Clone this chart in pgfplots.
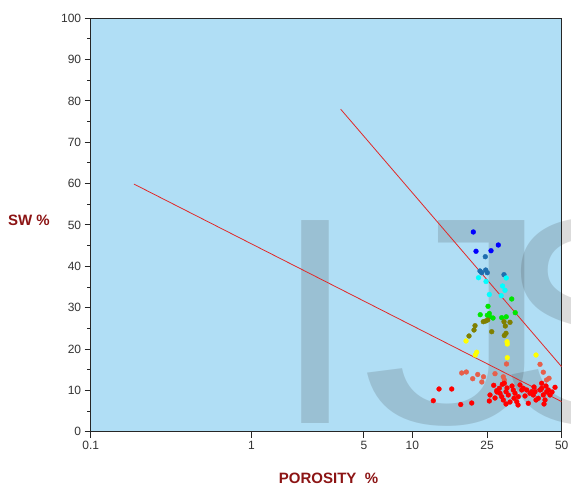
\documentclass[border=0pt]{standalone}
\usepackage{fontspec}
\setmainfont{Liberation Sans}
\usepackage{pgfplots}
\pgfplotsset{compat=1.18}
\definecolor{bgblue}{RGB}{176,222,245}
\definecolor{lblred}{RGB}{140,20,20}
\definecolor{ptblue}{RGB}{0,0,255}
\definecolor{ptsteel}{RGB}{30,110,175}
\definecolor{ptcyan}{RGB}{0,255,255}
\definecolor{ptgreen}{RGB}{0,230,0}
\definecolor{ptolive}{RGB}{128,128,0}
\definecolor{ptyellow}{RGB}{255,255,0}
\definecolor{ptsalmon}{RGB}{230,95,75}
\definecolor{ptred}{RGB}{255,0,0}
\definecolor{wm}{RGB}{57,57,57}
\definecolor{lnred}{RGB}{225,40,40}
\pgfplotsset{pts/.style={only marks, mark=*, mark size=2.4pt, color=#1}}
\begin{document}
\begin{tikzpicture}
\fill[bgblue] (0,0) rectangle (471pt,413.4pt);
\tikzset{wmk/.style={anchor=base west, inner sep=0pt, text=wm, text opacity=0.18,
      font=\fontsize{295pt}{296pt}\selectfont}}
\node[wmk] at (183.6pt,7.7pt) {I};
\node[wmk, xscale=1.3] at (271pt,7.7pt) {J};
\node[wmk] at (407.8pt,7.7pt) {S};
\begin{axis}[
  scale only axis, width=471pt, height=413.4pt,
  xmin=-1, xmax=1.929, ymin=0, ymax=100,
  xtick={-1,0,0.699,1,1.465,1.929}, xticklabels={0.1,1,5,10,25,50},
  ytick={0,10,...,100}, minor ytick={5,15,...,95},
  tick align=outside, xtick pos=bottom, ytick pos=left,
  major tick length=6pt, minor tick length=3.5pt,
  axis line style={line width=1pt, black!85},
  every tick/.style={line width=1pt, black!85},
  ticklabel style={font=\fontsize{12pt}{14pt}\selectfont, text=black!80},
  /pgf/number format/assume math mode=true,
]
\addplot[lnred, line width=0.8pt] coordinates {(-0.731,59.9) (1.929,7.26)};
\addplot[lnred, line width=0.8pt] coordinates {(0.5547,78.0) (1.929,15.7)};
% blue
\addplot[pts=ptblue] coordinates {(1.3794,48.31) (1.3962,43.64) (1.4895,43.78) (1.5348,45.16)};
% steel blue
\addplot[pts=ptsteel] coordinates {(1.454,42.33) (1.421,38.87) (1.4316,38.46) (1.4565,39.11) (1.4664,38.46) (1.5703,37.98)};
% cyan
\addplot[pts=ptcyan] coordinates {(1.4117,37.25) (1.4584,36.33) (1.584,37.18) (1.561,35.25) (1.5765,34.2) (1.4789,33.19) (1.5529,32.9)};
% green
\addplot[pts=ptgreen] coordinates {(1.6182,32.1) (1.4708,30.33) (1.64,28.79) (1.4223,28.3) (1.4664,28.16) (1.4789,28.59) (1.4801,27.82) (1.5019,27.5) (1.556,27.58) (1.584,27.79)};
% olive
\addplot[pts=ptolive] coordinates {(1.4416,26.61) (1.4565,26.78) (1.4689,27.02) (1.39,25.64) (1.3837,24.6) (1.3526,23.15) (1.4938,24.19) (1.5703,26.61) (1.6076,26.46) (1.5784,25.57) (1.5827,23.8) (1.5722,23.27)};
% yellow
\addplot[pts=ptyellow] coordinates {(1.334,21.94) (1.589,21.77) (1.5908,21.21) (1.4005,19.21) (1.3918,18.55) (1.5908,17.9) (1.7693,18.55)};
% salmon
\addplot[pts=ptsalmon] coordinates {(1.5858,16.38) (1.7942,16.3) (1.8147,14.39) (1.3072,14.2) (1.3358,14.44) (1.4067,13.84) (1.4428,13.28) (1.3756,12.82) (1.4322,12.02) (1.5143,14.03) (1.5659,13.28) (1.5722,12.51) (1.8502,12.92) (1.8346,12.51)};
% red
\addplot[pts=ptred] coordinates {(1.1661,10.33) (1.245,10.33) (1.1306,7.5) (1.301,6.58) (1.3694,6.94) (1.4789,7.43)
 (1.5062,11.22) (1.5249,9.92) (1.5411,10.5) (1.5597,11.47) (1.5722,11.71) (1.5454,9.29) (1.556,8.47) (1.5659,7.67)
 (1.5827,9.68) (1.597,8.88) (1.6281,10.09) (1.6387,9.29) (1.6325,8.08) (1.6493,7.26) (1.6592,8.47) (1.6804,10.09)
 (1.6903,10.5) (1.7115,10.09) (1.732,9.29) (1.7426,9.68) (1.7525,8.88) (1.7631,9.68) (1.7836,8.08) (1.7942,10.09)
 (1.8047,10.5) (1.8047,11.71) (1.8147,8.88) (1.8253,7.67) (1.8358,9.68) (1.8458,10.09) (1.8875,10.74) (1.7214,6.87)
 (1.4832,8.88) (1.5143,8.15) (1.589,10.57) (1.6076,7.18) (1.6698,11.3) (1.7693,7.67) (1.8563,8.88) (1.8688,9.6)
 (1.5268,9.6) (1.62,11.05) (1.7009,8.64) (1.5827,6.7) (1.6574,6.46) (1.8191,6.7) (1.7569,10.81) (1.8314,11.05)};
\end{axis}
\node[anchor=base, inner sep=0pt, text=lblred, font=\fontsize{15pt}{18pt}\selectfont\bfseries] at (-61.7pt,205.7pt) {SW \%};
\node[anchor=base, inner sep=0pt, text=lblred, font=\fontsize{15pt}{18pt}\selectfont\bfseries] at (237.8pt,-51.5pt) {POROSITY\ \ \%};
\pgfresetboundingbox
\useasboundingbox (-90.7pt,-54.3pt) rectangle (480.3pt,431.7pt);
\end{tikzpicture}
\end{document}
